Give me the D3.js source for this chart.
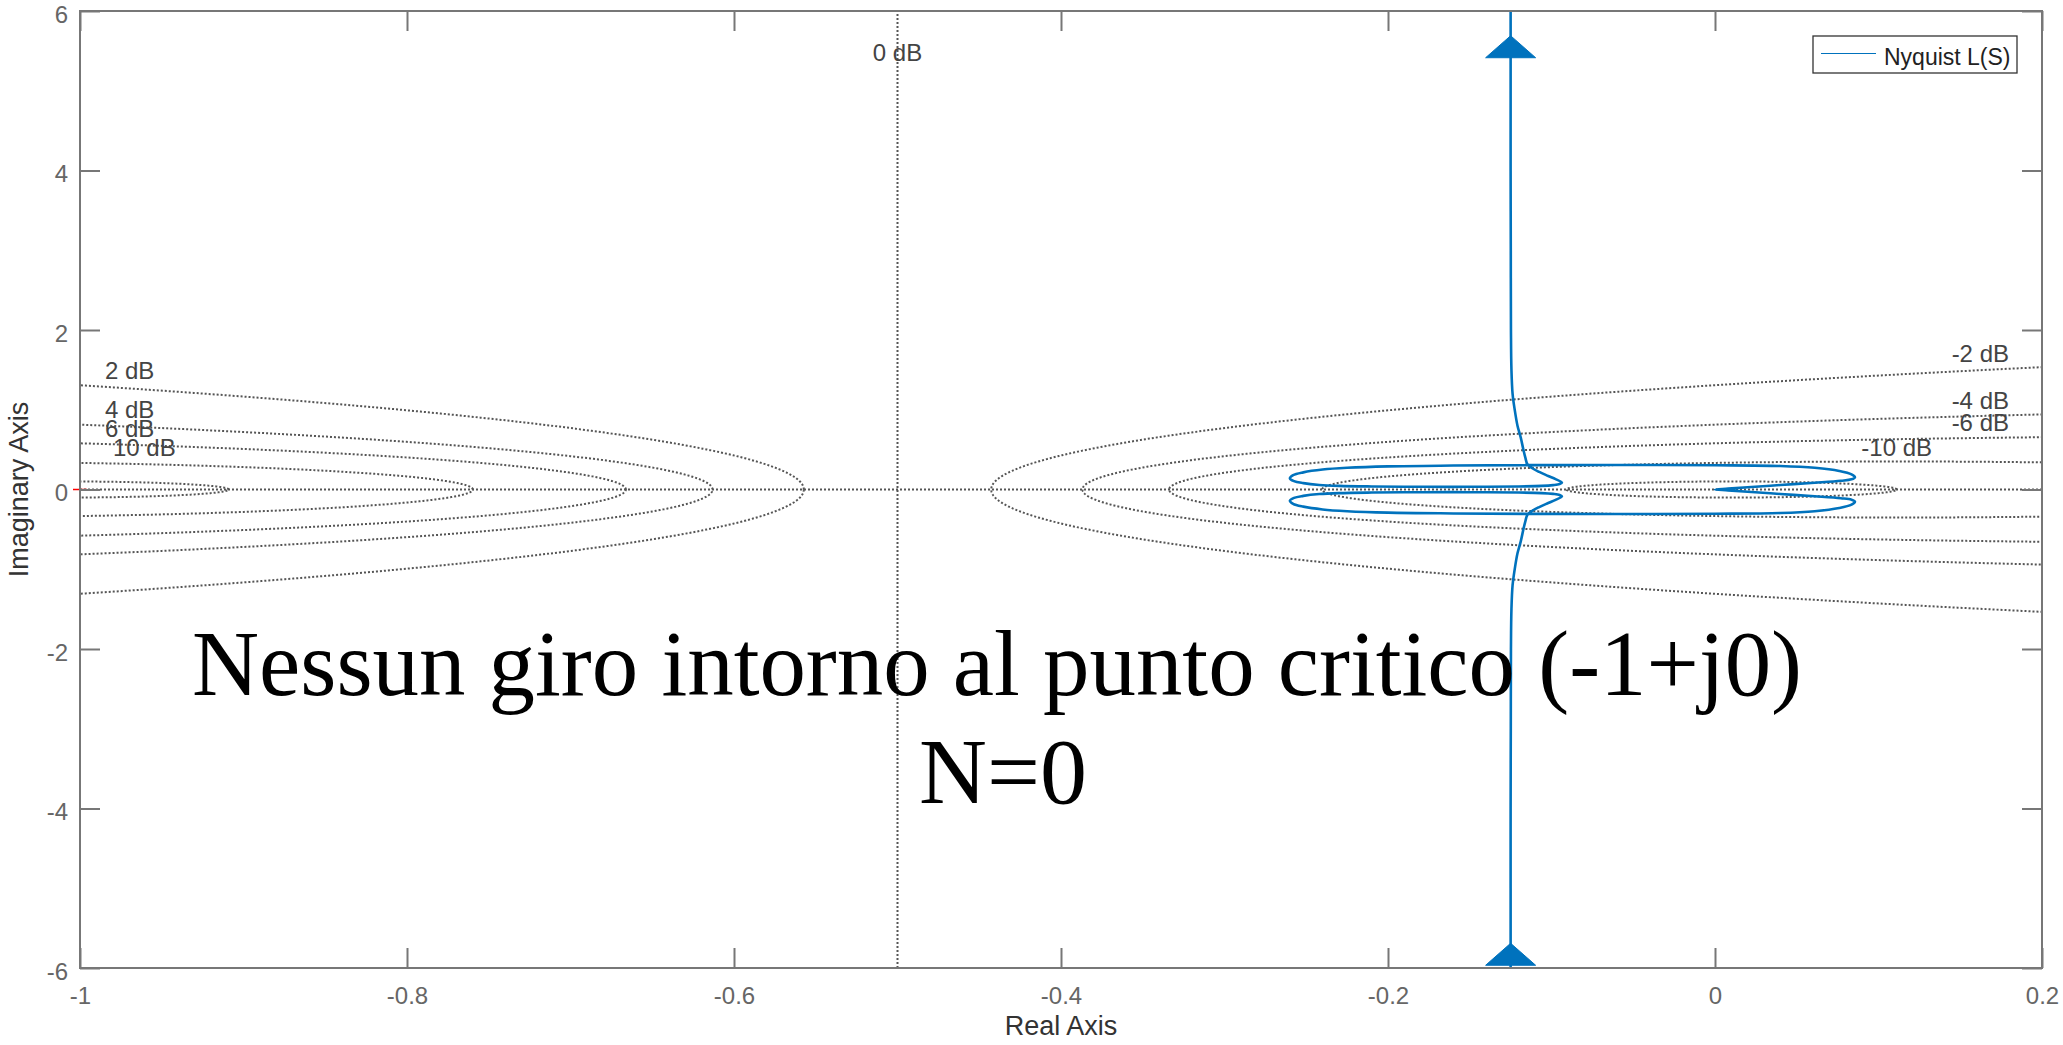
<!DOCTYPE html>
<html><head><meta charset="utf-8">
<script src="https://cdn.jsdelivr.net/npm/d3@7"></script>
<style>
body{margin:0;background:#fff}
svg{display:block}
</style>
</head><body>
<svg id="chart" width="2063" height="1045"></svg>
<script>
// ---------- data ----------
const xTicks = [-1, -0.8, -0.6, -0.4, -0.2, 0, 0.2];
const xTickLabels = ["-1", "-0.8", "-0.6", "-0.4", "-0.2", "0", "0.2"];
const yTicks = [-6, -4, -2, 0, 2, 4, 6];
const yTickLabels = ["-6", "-4", "-2", "0", "2", "4", "6"];
const gridDb = [20, 10, 6, 4, 2, 0, -2, -4, -6, -10, -20];
const labeledDb = [10, 6, 4, 2, 0, -2, -4, -6, -10];
// Nyquist branch for negative frequencies (upper half), from Im=+inf down to the origin
const nyqRe = [-0.1250, -0.1250, -0.1250, -0.1249, -0.1248, -0.1245, -0.1238, -0.1225, -0.1208, -0.1188,
  -0.1172, -0.1160, -0.1148, -0.1120, -0.1075, -0.1020, -0.0975, -0.0945, -0.0936, -0.0950,
  -0.0990, -0.1060, -0.1200, -0.1500, -0.1800, -0.2100, -0.2300, -0.2420, -0.2518, -0.2575,
  -0.2600, -0.2580, -0.2518, -0.2400, -0.2250, -0.2000, -0.1600, -0.1150, -0.0600, 0.0000,
  0.0400, 0.0610, 0.0760, 0.0835, 0.0856, 0.0835, 0.0770, 0.0610, 0.0400, 0.0200, 0.0080, 0.0000];
const nyqIm = [6.6, 5.0, 4.0, 3.0, 2.0, 1.5, 1.2, 1.0, 0.8, 0.65,
  0.5, 0.4, 0.32, 0.27, 0.22, 0.17, 0.13, 0.10, 0.085, 0.068,
  0.055, 0.045, 0.038, 0.034, 0.034, 0.038, 0.045, 0.057, 0.080, 0.105,
  0.140, 0.180, 0.215, 0.250, 0.272, 0.290, 0.300, 0.306, 0.307, 0.304,
  0.295, 0.272, 0.232, 0.190, 0.153, 0.128, 0.110, 0.085, 0.056, 0.028, 0.011, 0.000];
const arrowRe = [-0.125, -0.125];
const arrowIm = [5.69, -5.69];
const criticalPoint = [-1, 0];
const legendLabel = "Nyquist L(S)";
const noteLines = ["Nessun giro intorno al punto critico (-1+j0)", "N=0"];

// ---------- layout ----------
const L = 80, R = 2042, T = 11, B = 968;
const sans = '"Liberation Sans", Arial, Helvetica, sans-serif';
const blue = "#0072BD";
const svg = d3.select("#chart");
const x = d3.scaleLinear().domain([-1, 0.2]).range([L, R]);
const y = d3.scaleLinear().domain([-6, 6]).range([B, T]);

svg.append("defs").append("clipPath").attr("id", "plotclip")
  .append("rect").attr("x", L).attr("y", T).attr("width", R - L).attr("height", B - T);

const plot = svg.append("g").attr("clip-path", "url(#plotclip)");

// ---------- M-circle grid ----------
const dotStyle = g => g.attr("fill", "none").attr("stroke", "#555").attr("stroke-width", 2).attr("stroke-dasharray", "2 2");
function circleOf(db) {
  const M = Math.pow(10, db / 20), M2 = M * M;
  return {c: -M2 / (M2 - 1), r: Math.abs(M / (M2 - 1))};
}
const lineGen = d3.line().x(d => x(d[0])).y(d => y(d[1]));
gridDb.forEach(db => {
  if (db === 0) {
    plot.append("path").attr("d", lineGen([[-0.5, -6], [-0.5, 6]])).call(dotStyle);
    return;
  }
  const {c, r} = circleOf(db);
  const pts = d3.range(0, 1441).map(i => {
    const t = i / 1440 * 2 * Math.PI;
    return [c + r * Math.cos(t), r * Math.sin(t)];
  });
  plot.append("path").attr("d", lineGen(pts)).call(dotStyle);
});
// real axis
plot.append("path").attr("d", lineGen([[-1, 0], [0.2, 0]])).call(dotStyle);

// ---------- contour labels ----------
const lab = svg.append("g").attr("font-family", sans).attr("font-size", 24).attr("fill", "#444");
const labelNudge = {10: 8};
labeledDb.forEach(db => {
  const txt = db + " dB";
  if (db === 0) {
    lab.append("text").attr("x", x(-0.5)).attr("y", T + 42).attr("dy", "0.35em")
      .attr("text-anchor", "middle").text(txt);
    return;
  }
  const {c, r} = circleOf(db);
  if (c > -1 && c < 0.2) {
    lab.append("text").attr("x", x(c)).attr("y", y(r) - 14).attr("dy", "0.35em")
      .attr("text-anchor", "middle").text(txt);
  } else if (c <= -1) {
    const yy = Math.sqrt(r * r - (-1 - c) * (-1 - c));
    lab.append("text").attr("x", x(-1) + 25 + (labelNudge[db] || 0)).attr("y", y(yy) - 15).attr("dy", "0.35em")
      .attr("text-anchor", "start").text(txt);
  } else {
    const xe = x.invert(R - 33);
    const yy = Math.sqrt(r * r - (xe - c) * (xe - c));
    lab.append("text").attr("x", R - 33).attr("y", y(yy) - 15).attr("dy", "0.35em")
      .attr("text-anchor", "end").text(txt);
  }
});

// ---------- Nyquist curve ----------
const upper = nyqRe.map((v, i) => [v, nyqIm[i]]);
const lower = upper.slice().reverse().map(d => [d[0], -d[1]]);
const curve = d3.line().x(d => x(d[0])).y(d => y(d[1])).curve(d3.curveCatmullRom.alpha(0.5));
plot.append("path").attr("d", curve(upper.concat(lower.slice(1))))
  .attr("fill", "none").attr("stroke", blue).attr("stroke-width", 2.6).attr("stroke-linejoin", "round");

// arrows (pointing toward increasing frequency: upward)
arrowRe.forEach((re, i) => {
  const px = x(re), py = y(arrowIm[i]);
  svg.append("path").attr("d", `M${px},${py} L${px - 25},${py + 22} L${px + 25},${py + 22} Z`)
    .attr("fill", blue).attr("stroke", blue).attr("stroke-width", 1);
});

// critical point
const cpx = x(criticalPoint[0]), cpy = y(criticalPoint[1]);
svg.append("path").attr("d", `M${cpx - 7},${cpy} L${cpx + 7},${cpy} M${cpx},${cpy - 7} L${cpx},${cpy + 7}`)
  .attr("stroke", "#ff0000").attr("stroke-width", 1.5);

// ---------- axes ----------
function styleAxis(g) {
  g.select(".domain").remove();
  g.selectAll(".tick line").attr("stroke", "#777").attr("stroke-width", 2);
  g.selectAll(".tick text").attr("fill", "#666");
  g.attr("font-family", sans).attr("font-size", 24);
}
svg.append("g").attr("transform", `translate(0,${B})`)
  .call(d3.axisBottom(x).tickValues(xTicks).tickFormat((d, i) => xTickLabels[i]).tickSizeInner(-20).tickSizeOuter(0).tickPadding(19))
  .call(styleAxis);
svg.append("g").attr("transform", `translate(0,${T})`)
  .call(d3.axisTop(x).tickValues(xTicks).tickFormat("").tickSizeInner(-20).tickSizeOuter(0))
  .call(styleAxis);
const gy = svg.append("g").attr("transform", `translate(${L},0)`)
  .call(d3.axisLeft(y).tickValues(yTicks).tickFormat((d, i) => yTickLabels[i]).tickSizeInner(-20).tickSizeOuter(0).tickPadding(12))
  .call(styleAxis);
gy.selectAll(".tick text").attr("dy", "0.47em");
svg.append("g").attr("transform", `translate(${R},0)`)
  .call(d3.axisRight(y).tickValues(yTicks).tickFormat("").tickSizeInner(-20).tickSizeOuter(0))
  .call(styleAxis);
svg.append("rect").attr("x", L).attr("y", T).attr("width", R - L).attr("height", B - T)
  .attr("fill", "none").attr("stroke", "#777").attr("stroke-width", 2);

// axis labels
svg.append("text").attr("x", (L + R) / 2).attr("y", 1035).attr("text-anchor", "middle")
  .attr("font-family", sans).attr("font-size", 27).attr("fill", "#333").text("Real Axis");
svg.append("text").attr("transform", `translate(28,${(T + B) / 2}) rotate(-90)`).attr("text-anchor", "middle")
  .attr("font-family", sans).attr("font-size", 27).attr("fill", "#333").text("Imaginary Axis");

// ---------- legend ----------
const lg = svg.append("g");
lg.append("rect").attr("x", 1813).attr("y", 36).attr("width", 204).attr("height", 37)
  .attr("fill", "#fff").attr("stroke", "#333").attr("stroke-width", 1.3);
lg.append("line").attr("x1", 1821).attr("x2", 1876).attr("y1", 53.5).attr("y2", 53.5)
  .attr("stroke", blue).attr("stroke-width", 1.2);
lg.append("text").attr("x", 1884).attr("y", 65).attr("font-family", sans).attr("font-size", 23)
  .attr("fill", "#222").text(legendLabel);

// ---------- annotation ----------
const note = svg.append("g").attr("font-family", '"Liberation Serif", "Times New Roman", serif').attr("font-size", 94).attr("fill", "#000");
note.append("text").attr("x", 997).attr("y", 695).attr("text-anchor", "middle")
  .attr("textLength", 1610).attr("lengthAdjust", "spacingAndGlyphs").text(noteLines[0]);
note.append("text").attr("x", 1003).attr("y", 803).attr("text-anchor", "middle").text(noteLines[1]);
</script>
</body></html>
